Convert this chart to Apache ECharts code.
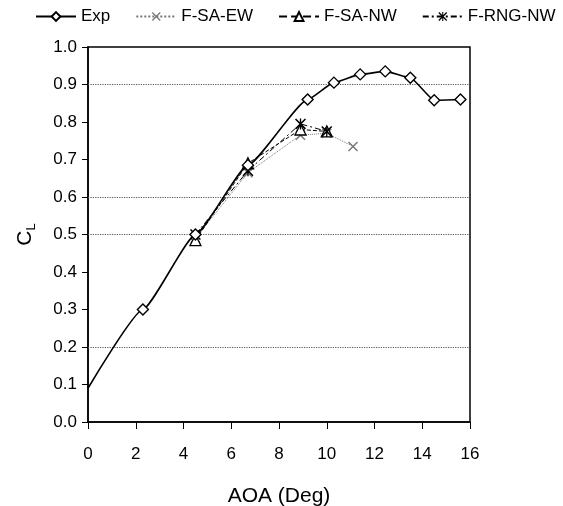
<!DOCTYPE html>
<html>
<head>
<meta charset="utf-8">
<script src="https://cdn.jsdelivr.net/npm/echarts@6/dist/echarts.min.js"></script>
<style>
  html, body { margin: 0; padding: 0; background: #fff; }
  #main { width: 563px; height: 506px; }
</style>
</head>
<body>
<div id="main"></div>
<script>
// data (AOA in deg, CL)
var expData = [[0, 0.09], [2.3, 0.30], [4.5, 0.50], [6.7, 0.685], [9.2, 0.86], [10.3, 0.905],
  [11.4, 0.927], [12.45, 0.935], [13.5, 0.918], [14.5, 0.858], [15.6, 0.86]]
var saEwData = [[4.5, 0.49], [6.7, 0.665], [8.9, 0.765], [10.0, 0.77], [11.1, 0.735]]
var saNwData = [[4.5, 0.485], [6.7, 0.69], [8.9, 0.78], [10.0, 0.775]]
var rngNwData = [[4.5, 0.50], [6.7, 0.67], [8.9, 0.795], [10.0, 0.775]]
var gridLevels = [0.2, 0.5, 0.6, 0.9]

var crossPath = 'path://M0,1 L1,0 L10,9 L9,10 Z M9,0 L10,1 L1,10 L0,9 Z'
var starPath = 'path://M0,1 L1,0 L10,9 L9,10 Z M9,0 L10,1 L1,10 L0,9 Z M4.4,0 L5.6,0 L5.6,10 L4.4,10 Z'

var font = 'Liberation Sans, Arial, sans-serif'

var chart = echarts.init(document.getElementById('main'))
chart.setOption({
  animation: false,
  backgroundColor: '#fff',
  textStyle: { fontFamily: font },
  legend: {
    top: 3,
    left: 30,
    itemWidth: 40,
    itemHeight: 11,
    itemGap: 25,
    textStyle: { fontSize: 17, color: '#000', fontFamily: font },
    data: ['Exp', 'F-SA-EW', 'F-SA-NW', 'F-RNG-NW']
  },
  grid: {
    left: 88,
    right: 93,
    top: 47,
    bottom: 84,
    outerBoundsMode: 'none',
    containLabel: false,
    show: true,
    borderColor: '#000',
    borderWidth: 1.5
  },
  xAxis: {
    type: 'value',
    min: 0,
    max: 16,
    interval: 2,
    name: 'AOA (Deg)',
    nameLocation: 'middle',
    nameGap: 64,
    nameTextStyle: { fontSize: 21, color: '#000', fontFamily: font },
    axisLine: { onZero: false, lineStyle: { color: '#000', width: 1.5 } },
    axisTick: { inside: false, length: 7, lineStyle: { color: '#000' } },
    axisLabel: { fontSize: 17, color: '#000', margin: 24, fontFamily: font },
    splitLine: { show: false }
  },
  yAxis: {
    type: 'value',
    min: 0,
    max: 1,
    interval: 0.1,
    name: 'C{s|L}',
    nameLocation: 'middle',
    nameGap: 50,
    nameTextStyle: {
      fontSize: 21,
      color: '#000',
      fontFamily: font,
      rich: {
        s: { fontSize: 13, color: '#000', fontFamily: font, padding: [12, 0, 0, 0] }
      }
    },
    axisLine: { onZero: false, lineStyle: { color: '#000', width: 1.5 } },
    axisTick: { inside: false, length: 6, lineStyle: { color: '#000' } },
    axisLabel: {
      fontSize: 17,
      color: '#000',
      margin: 11,
      fontFamily: font,
      formatter: function (v) { return v.toFixed(1) }
    },
    splitLine: { show: false }
  },
  series: [
    {
      name: 'Exp',
      type: 'line',
      data: expData.map(function (p, i) {
        return i === 0 ? { value: p, symbol: 'none' } : p
      }),
      smooth: 0.15,
      smoothMonotone: 'x',
      symbol: 'diamond',
      symbolSize: 11,
      lineStyle: { color: '#000', width: 1.6 },
      itemStyle: { color: '#fff', borderColor: '#000', borderWidth: 1.4 },
      z: 5,
      markLine: {
        silent: true,
        symbol: 'none',
        label: { show: false },
        lineStyle: { color: '#555', type: 'dotted', width: 1.2 },
        data: gridLevels.map(function (v) { return { yAxis: v } })
      }
    },
    {
      name: 'F-SA-EW',
      type: 'line',
      data: saEwData,
      symbol: crossPath,
      symbolSize: 10,
      lineStyle: { color: '#777', width: 1, type: 'dotted' },
      itemStyle: { color: '#777' }
    },
    {
      name: 'F-SA-NW',
      type: 'line',
      data: saNwData,
      symbol: 'triangle',
      symbolSize: 11,
      lineStyle: { color: '#000', width: 1, type: 'dashed' },
      itemStyle: { color: '#fff', borderColor: '#000', borderWidth: 1.3 }
    },
    {
      name: 'F-RNG-NW',
      type: 'line',
      data: rngNwData,
      symbol: starPath,
      symbolSize: 11,
      lineStyle: { color: '#000', width: 1, type: [6, 3, 2, 3] },
      itemStyle: { color: '#000' }
    }
  ]
})
</script>
</body>
</html>
